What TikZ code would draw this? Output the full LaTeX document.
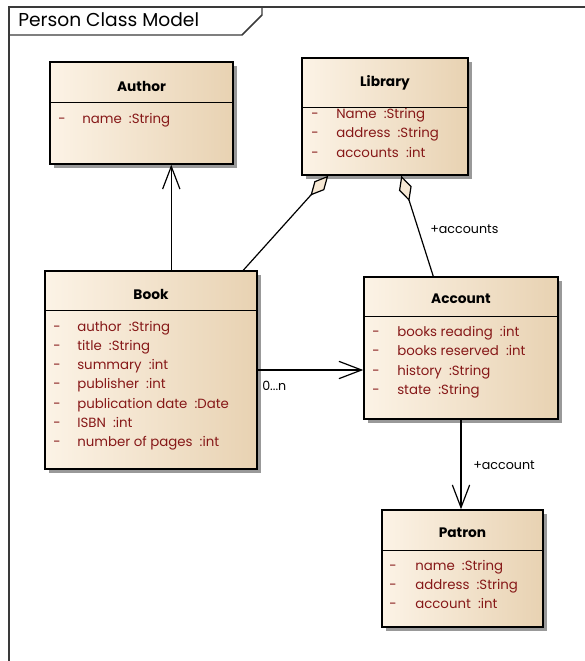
\documentclass[tikz,border=0pt]{standalone}
\usepackage{fontspec}
\setmainfont{Poppins}
\usetikzlibrary{arrows.meta,calc,shadows}

\definecolor{attrred}{HTML}{861818}
\definecolor{boxleft}{HTML}{FCF3E6}
\definecolor{boxright}{HTML}{E8D2B2}
\definecolor{diamondfill}{HTML}{F6E8D4}
\definecolor{framegray}{HTML}{3A3A3A}

\tikzset{
  classbox/.style 2 args={draw=black, line width=1.1pt, rectangle, inner sep=0pt,
    minimum width=#1*0.75pt, minimum height=#2*0.75pt,
    left color=boxleft, right color=boxright,
    drop shadow={shadow xshift=3pt, shadow yshift=-3pt, fill=black!40, opacity=1}},
  classtitle/.style={font=\fontsize{10.3pt}{12pt}\selectfont\bfseries, inner sep=0pt},
  attr/.style={anchor=mid west, inner sep=0pt, text=attrred, font=\fontsize{10pt}{12pt}\selectfont},
  divider/.style={draw=black, line width=1pt},
  link/.style={draw=black, line width=0.9pt},
  openarrow/.style={-{Straight Barb[length=17pt, width=13pt, line width=0.9pt]}},
  aggregation/.style={-{Diamond[length=20pt, width=10pt, fill=diamondfill, line width=0.9pt]}},
  rolelabel/.style={anchor=mid west, inner sep=0pt, font=\fontsize{9.5pt}{11pt}\selectfont},
}

\begin{document}
\begin{tikzpicture}[x=0.75pt, y=-0.75pt]
\useasboundingbox (0,0) rectangle (585,661);

% diagram frame with its name tab
\draw[framegray, line width=1.3pt] (585,7) -- (9,7) -- (9,662);
\draw[framegray, line width=1.1pt] (9,35) -- (242,35) -- (262,15) -- (262,7);
\node[anchor=mid west, inner sep=0pt, font=\fontsize{14pt}{16pt}\selectfont] (frametitle) at (18,22.5) {Person Class Model};

% class boxes
\node[classbox={183}{102}] (author)  at (141.5,113)   {};
\node[classbox={166}{117}] (library) at (385,116.5)   {};
\node[classbox={212}{198}] (book)    at (151,370)     {};
\node[classbox={194}{142}] (account) at (461,348)     {};
\node[classbox={161}{117}] (patron)  at (462.5,568.5) {};

% header dividers
\draw[divider] ($(author.north west)+(0,41)$)  -- ($(author.north east)+(0,41)$);
\draw[divider] ($(library.north west)+(0,50)$) -- ($(library.north east)+(0,50)$);
\draw[divider] ($(book.north west)+(0,40)$)    -- ($(book.north east)+(0,40)$);
\draw[divider] ($(account.north west)+(0,40)$) -- ($(account.north east)+(0,40)$);
\draw[divider] ($(patron.north west)+(0,41)$)  -- ($(patron.north east)+(0,41)$);

% class names
\node[classtitle] (authorname)  at (141.5,86) {Author};
\node[classtitle] (libraryname) at (385,82.5) {Library};
\node[classtitle] (bookname)    at (151,294)  {Book};
\node[classtitle] (accountname) at (461,299)  {Account};
\node[classtitle] (patronname)  at (462.5,533) {Patron};

% Author attributes
\node[attr] (a1d) at (58,119.5) {-};
\node[attr] (a1)  at (82,119.5) {name~~:String};

% Library attributes
\node[attr] (l1d) at (311,115) {-};
\node[attr] (l1)  at (336,115) {Name~~:String};
\node[attr] (l2d) at (311,134) {-};
\node[attr] (l2)  at (336,134) {address~~:String};
\node[attr] (l3d) at (311,153.5) {-};
\node[attr] (l3)  at (336,153.5) {accounts~~:int};

% Book attributes
\node[attr] (b1d) at (53,327.5) {-};
\node[attr] (b1)  at (77,327.5) {author~~:String};
\node[attr] (b2d) at (53,346.5) {-};
\node[attr] (b2)  at (77,346.5) {title~~:String};
\node[attr] (b3d) at (53,365.5) {-};
\node[attr] (b3)  at (77,365.5) {summary~~:int};
\node[attr] (b4d) at (53,385) {-};
\node[attr] (b4)  at (77,385) {publisher~~:int};
\node[attr] (b5d) at (53,404.5) {-};
\node[attr] (b5)  at (77,404.5) {publication date~~:Date};
\node[attr] (b6d) at (53,423.5) {-};
\node[attr] (b6)  at (77,423.5) {ISBN~~:int};
\node[attr] (b7d) at (53,442.5) {-};
\node[attr] (b7)  at (77,442.5) {number of pages~~:int};

% Account attributes
\node[attr] (c1d) at (372,332.5) {-};
\node[attr] (c1)  at (397,332.5) {books reading~~:int};
\node[attr] (c2d) at (372,352) {-};
\node[attr] (c2)  at (397,352) {books reserved~~:int};
\node[attr] (c3d) at (372,371.5) {-};
\node[attr] (c3)  at (397,371.5) {history~~:String};
\node[attr] (c4d) at (372,391) {-};
\node[attr] (c4)  at (397,391) {state~~:String};

% Patron attributes
\node[attr] (p1d) at (389,566.5) {-};
\node[attr] (p1)  at (415,566.5) {name~~:String};
\node[attr] (p2d) at (389,585.5) {-};
\node[attr] (p2)  at (415,585.5) {address~~:String};
\node[attr] (p3d) at (389,605) {-};
\node[attr] (p3)  at (415,605) {account~~:int};

% associations
\draw[link, openarrow] ($(book.north west)+(127,0)$) -- ($(author.south west)+(122,0)$);
\draw[link, aggregation] ($(book.north west)+(199,0)$) -- ($(library.south west)+(27,0)$);
\draw[link, aggregation] ($(account.north west)+(70,0)$) -- ($(library.south west)+(100,0)$);
\draw[link, openarrow] (book.east) -- (book.east -| account.west);
\draw[link, openarrow] (account.south) -- (account.south |- patron.north);

% role and multiplicity labels
\node[rolelabel] (rolea)  at (430,230) {+accounts};
\node[rolelabel] (mult)   at (262,387) {0...n};
\node[rolelabel] (roleb)  at (473,466) {+account};
\end{tikzpicture}
\end{document}
